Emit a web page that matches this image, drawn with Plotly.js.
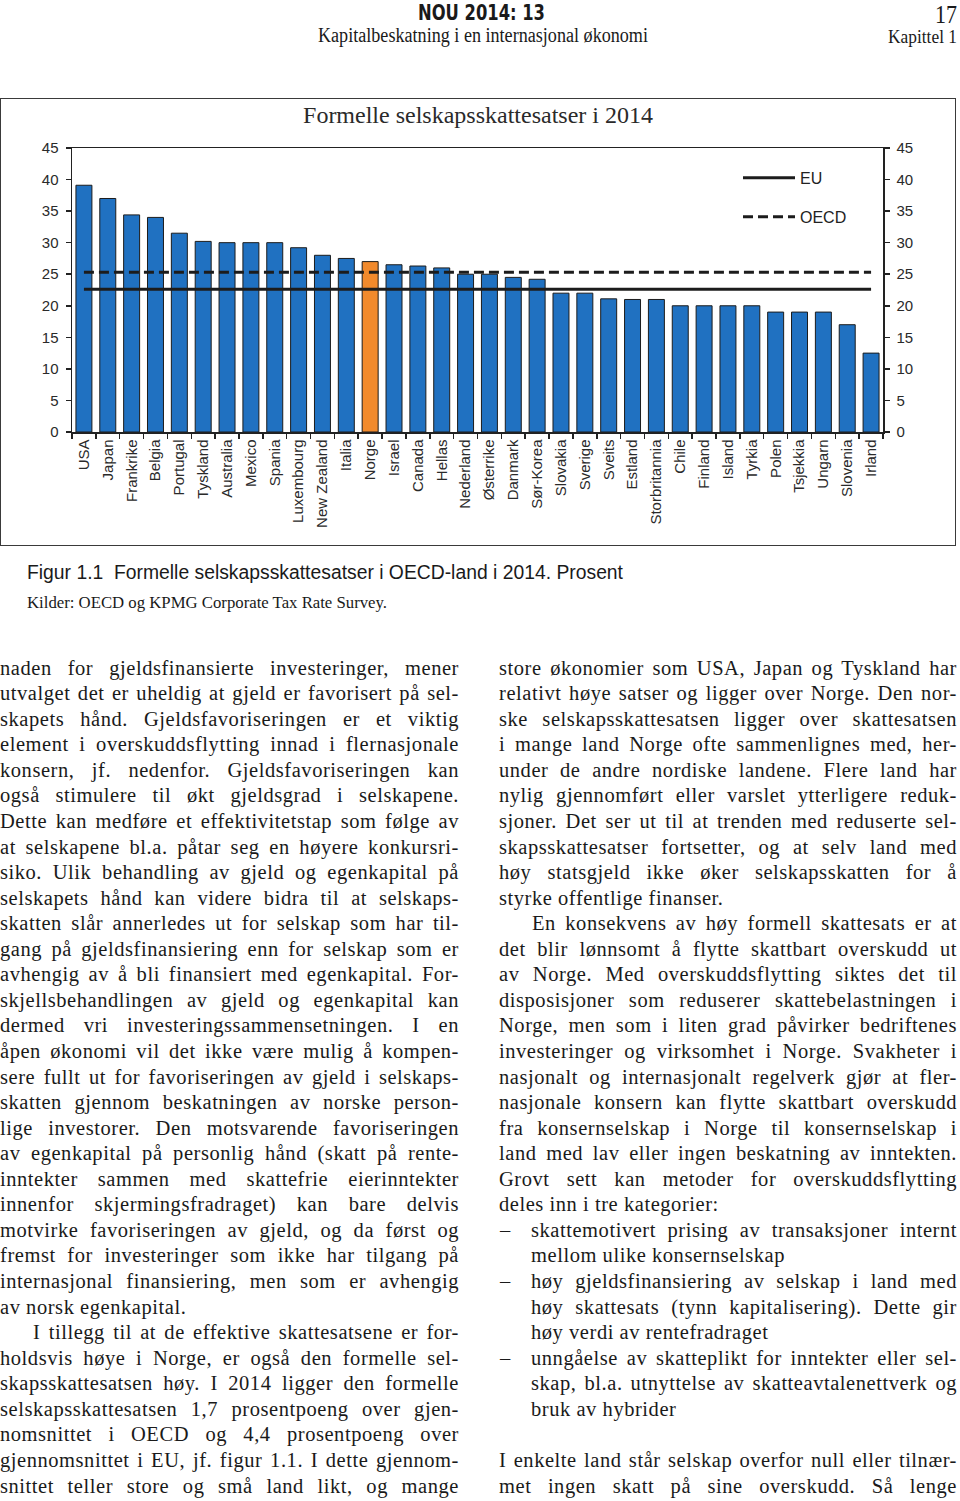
<!DOCTYPE html>
<html>
<head>
<meta charset="utf-8">
<script src="https://cdn.plot.ly/plotly-3.0.1.min.js"></script>
<style>
  html, body { margin:0; padding:0; background:#fff; }
  body { width:960px; height:1501px; position:relative; overflow:hidden; }
  .t { position:absolute; white-space:nowrap; color:#1a1a1a; }
  .serif { font-family:"Liberation Serif","Times New Roman",serif; }
  .sans { font-family:"Liberation Sans",Arial,sans-serif; }
  #frame { position:absolute; left:0; top:98px; width:954px; height:446px; border:1.5px solid #3a3a3a; }
  #chart { position:absolute; left:0; top:0; width:954px; height:446px; }
</style>
</head>
<body>
<div class="t" id="h1" style="left:418px;top:1px;line-height:24px;font-family:'Liberation Sans Narrow','DejaVu Sans Condensed','Liberation Sans',sans-serif;font-weight:bold;font-size:22px;">NOU 2014: 13</div>
<div class="t serif" id="h17" style="left:935px;top:1px;line-height:27px;font-size:25px;">17</div>
<div class="t serif" id="h2" style="left:318px;top:24px;line-height:22px;font-size:20px;">Kapitalbeskatning i en internasjonal økonomi</div>
<div class="t serif" id="h3" style="left:888px;top:26px;line-height:21px;font-size:19.5px;">Kapittel 1</div>

<div id="frame"><div id="chart"></div></div>

<div class="t sans" id="cap" style="left:27px;top:561px;font-size:20px;">Figur 1.1&nbsp;&nbsp;Formelle selskapsskattesatser i OECD-land i 2014. Prosent</div>
<div class="t serif" id="src" style="left:27px;top:594px;font-size:16px;">Kilder: OECD og KPMG Corporate Tax Rate Survey.</div>

<div id="textlayer"></div>

<script>
// ---------- chart data ----------
const countries = ["USA","Japan","Frankrike","Belgia","Portugal","Tyskland","Australia","Mexico","Spania","Luxembourg","New Zealand","Italia","Norge","Israel","Canada","Hellas","Nederland","Østerrike","Danmark","Sør-Korea","Slovakia","Sverige","Sveits","Estland","Storbritannia","Chile","Finland","Island","Tyrkia","Polen","Tsjekkia","Ungarn","Slovenia","Irland"];
const taxRates = [39.1,37.0,34.4,34.0,31.5,30.2,30.0,30.0,30.0,29.2,28.0,27.5,27.0,26.5,26.3,26.0,25.0,25.0,24.5,24.2,22.0,22.0,21.1,21.0,21.0,20.0,20.0,20.0,20.0,19.0,19.0,19.0,17.0,12.5];
const highlight = "Norge";
const euAverage = 22.6;
const oecdAverage = 25.3;
const yTicks = [0,5,10,15,20,25,30,35,40,45];
const chartTitle = "Formelle selskapsskattesatser i 2014";
const seriesNames = ["EU","OECD"];

// ---------- page text ----------
const leftLines = [
 ["naden for gjeldsfinansierte investeringer, mener","J"],
 ["utvalget det er uheldig at gjeld er favorisert på sel-","J"],
 ["skapets hånd. Gjeldsfavoriseringen er et viktig","J"],
 ["element i overskuddsflytting innad i flernasjonale","J"],
 ["konsern, jf. nedenfor. Gjeldsfavoriseringen kan","J"],
 ["også stimulere til økt gjeldsgrad i selskapene.","J"],
 ["Dette kan medføre et effektivitetstap som følge av","J"],
 ["at selskapene bl.a. påtar seg en høyere konkursri-","J"],
 ["siko. Ulik behandling av gjeld og egenkapital på","J"],
 ["selskapets hånd kan videre bidra til at selskaps-","J"],
 ["skatten slår annerledes ut for selskap som har til-","J"],
 ["gang på gjeldsfinansiering enn for selskap som er","J"],
 ["avhengig av å bli finansiert med egenkapital. For-","J"],
 ["skjellsbehandlingen av gjeld og egenkapital kan","J"],
 ["dermed vri investeringssammensetningen. I en","J"],
 ["åpen økonomi vil det ikke være mulig å kompen-","J"],
 ["sere fullt ut for favoriseringen av gjeld i selskaps-","J"],
 ["skatten gjennom beskatningen av norske person-","J"],
 ["lige investorer. Den motsvarende favoriseringen","J"],
 ["av egenkapital på personlig hånd (skatt på rente-","J"],
 ["inntekter sammen med skattefrie eierinntekter","J"],
 ["innenfor skjermingsfradraget) kan bare delvis","J"],
 ["motvirke favoriseringen av gjeld, og da først og","J"],
 ["fremst for investeringer som ikke har tilgang på","J"],
 ["internasjonal finansiering, men som er avhengig","J"],
 ["av norsk egenkapital.","L"],
 ["I tillegg til at de effektive skattesatsene er for-","I"],
 ["holdsvis høye i Norge, er også den formelle sel-","J"],
 ["skapsskattesatsen høy. I 2014 ligger den formelle","J"],
 ["selskapsskattesatsen 1,7 prosentpoeng over gjen-","J"],
 ["nomsnittet i OECD og 4,4 prosentpoeng over","J"],
 ["gjennomsnittet i EU, jf. figur 1.1. I dette gjennom-","J"],
 ["snittet teller store og små land likt, og mange","J"]
];
const rightLines = [
 ["store økonomier som USA, Japan og Tyskland har","J"],
 ["relativt høye satser og ligger over Norge. Den nor-","J"],
 ["ske selskapsskattesatsen ligger over skattesatsen","J"],
 ["i mange land Norge ofte sammenlignes med, her-","J"],
 ["under de andre nordiske landene. Flere land har","J"],
 ["nylig gjennomført eller varslet ytterligere reduk-","J"],
 ["sjoner. Det ser ut til at trenden med reduserte sel-","J"],
 ["skapsskattesatser fortsetter, og at selv land med","J"],
 ["høy statsgjeld ikke øker selskapsskatten for å","J"],
 ["styrke offentlige finanser.","L"],
 ["En konsekvens av høy formell skattesats er at","I"],
 ["det blir lønnsomt å flytte skattbart overskudd ut","J"],
 ["av Norge. Med overskuddsflytting siktes det til","J"],
 ["disposisjoner som reduserer skattebelastningen i","J"],
 ["Norge, men som i liten grad påvirker bedriftenes","J"],
 ["investeringer og virksomhet i Norge. Svakheter i","J"],
 ["nasjonalt og internasjonalt regelverk gjør at fler-","J"],
 ["nasjonale konsern kan flytte skattbart overskudd","J"],
 ["fra konsernselskap i Norge til konsernselskap i","J"],
 ["land med lav eller ingen beskatning av inntekten.","J"],
 ["Grovt sett kan metoder for overskuddsflytting","J"],
 ["deles inn i tre kategorier:","L"],
 ["skattemotivert prising av transaksjoner internt","DJ"],
 ["mellom ulike konsernselskap","HL"],
 ["høy gjeldsfinansiering av selskap i land med","DJ"],
 ["høy skattesats (tynn kapitalisering). Dette gir","HJ"],
 ["høy verdi av rentefradraget","HL"],
 ["unngåelse av skatteplikt for inntekter eller sel-","DJ"],
 ["skap, bl.a. utnyttelse av skatteavtalenettverk og","HJ"],
 ["bruk av hybrider","HL"],
 ["",""],
 ["I enkelte land står selskap overfor null eller tilnær-","J"],
 ["met ingen skatt på sine overskudd. Så lenge","J"]
];

// ---------- chart ----------
const barColors = countries.map(c => c === highlight ? "#f28a2c" : "#2071c1");
const traces = [
  { type:"bar", x:countries, y:taxRates, marker:{color:barColors, line:{color:"#1c1c1c", width:1}}, showlegend:false, hoverinfo:"skip" },
  { type:"scatter", mode:"lines", name:seriesNames[0], legendgroup:"a", yaxis:"y2",
    x:[countries[0], countries[countries.length-1]], y:[euAverage, euAverage],
    line:{color:"#1c1c1c", width:3} },
  { type:"scatter", mode:"lines", name:seriesNames[1], legendgroup:"b", yaxis:"y2",
    x:[countries[0], countries[countries.length-1]], y:[oecdAverage, oecdAverage],
    line:{color:"#1c1c1c", width:3, dash:"10px,5px"} }
];
const axisFont = {family:"Liberation Sans, Arial, sans-serif", size:15, color:"#2a2a2a"};
const layout = {
  width:954, height:446,
  margin:{l:71, r:72, t:49, b:113},
  paper_bgcolor:"#fff", plot_bgcolor:"#fff",
  bargap:0.33,
  title:{text:chartTitle, x:0.5, xanchor:"center", y:1-16/446, yanchor:"middle", yref:"container",
         font:{family:"Liberation Serif, Times New Roman, serif", size:24, color:"#2a2a2a"}},
  xaxis:{type:"category", tickangle:-90, tickfont:axisFont, showline:true, linecolor:"#222", linewidth:1.5,
         mirror:true, ticks:"outside", tickson:"boundaries", ticklen:5, tickwidth:1.5, tickcolor:"#222",
         showgrid:false, zeroline:false, fixedrange:true},
  yaxis:{range:[0,45], tickvals:yTicks, ticks:"outside", ticklen:5, tickwidth:1.5, tickcolor:"#222",
         showline:true, linecolor:"#222", linewidth:1.5, showgrid:false, zeroline:false, tickfont:axisFont,
         ticklabelstandoff:4, fixedrange:true},
  yaxis2:{range:[0,45], tickvals:yTicks, overlaying:"y", side:"right", ticks:"outside", ticklen:5, tickwidth:1.5,
          tickcolor:"#222", showline:true, linecolor:"#222", linewidth:1.5, showgrid:false, zeroline:false,
          tickfont:axisFont, ticklabelstandoff:4, fixedrange:true},
  showlegend:true,
  legend:{x:(739-73)/811, xanchor:"left", y:(432.7-161)/284.7, yanchor:"top", bgcolor:"rgba(0,0,0,0)",
          font:{family:"Liberation Sans, Arial, sans-serif", size:16, color:"#222"},
          tracegroupgap:15, itemwidth:52, traceorder:"grouped"}
};
Plotly.newPlot("chart", traces, layout, {displayModeBar:false, staticPlot:true});

// ---------- text layout ----------
const BASE_LS = 0.55;
function makeLine(text, left, top, width, mode) {
  const d = document.createElement("div");
  d.className = "t serif";
  d.style.left = left + "px";
  d.style.top = top + "px";
  d.style.fontSize = "20.5px";
  d.style.lineHeight = "25.6px";
  d.style.letterSpacing = BASE_LS + "px";
  d.textContent = text;
  document.getElementById("textlayer").appendChild(d);
  if (mode === "J") {
    let natural = d.getBoundingClientRect().width;
    const spaces = (text.match(/ /g) || []).length;
    let ws = spaces ? (width - natural) / spaces : 0;
    if (ws < -1.2) {
      const deficit = width - natural + 1.2 * spaces;
      d.style.letterSpacing = (BASE_LS + deficit / text.length) + "px";
      natural = d.getBoundingClientRect().width;
      ws = spaces ? (width - natural) / spaces : 0;
    }
    if (spaces > 0) d.style.wordSpacing = ws + "px";
  }
  return d;
}
function layoutColumn(lines, colLeft, colWidth) {
  lines.forEach((ln, i) => {
    const [text, mode] = ln;
    if (!text) return;
    const top = 675 + i * 25.56 - 19.4;
    if (mode === "J") makeLine(text, colLeft, top, colWidth, "J");
    else if (mode === "L") makeLine(text, colLeft, top, colWidth, "L");
    else if (mode === "I") makeLine(text, colLeft + 33, top, colWidth - 33, "J");
    else {
      if (mode === "DJ") makeLine("–", colLeft + 1, top, 20, "L");
      makeLine(text, colLeft + 32, top, colWidth - 32, mode === "HL" ? "L" : "J");
    }
  });
}
function fitWidth(id, w) {
  const el = document.getElementById(id);
  const nat = el.getBoundingClientRect().width;
  el.style.transformOrigin = "left top";
  el.style.transform = "scaleX(" + (w / nat) + ")";
}
function doText() {
  layoutColumn(leftLines, 0, 459);
  layoutColumn(rightLines, 499, 458);
  fitWidth("h1", 127);
  fitWidth("h17", 22);
  fitWidth("h2", 330);
  fitWidth("h3", 69);
  fitWidth("cap", 596);
  fitWidth("src", 360);
}
if (document.fonts && document.fonts.ready) document.fonts.ready.then(doText); else doText();
</script>
</body>
</html>
